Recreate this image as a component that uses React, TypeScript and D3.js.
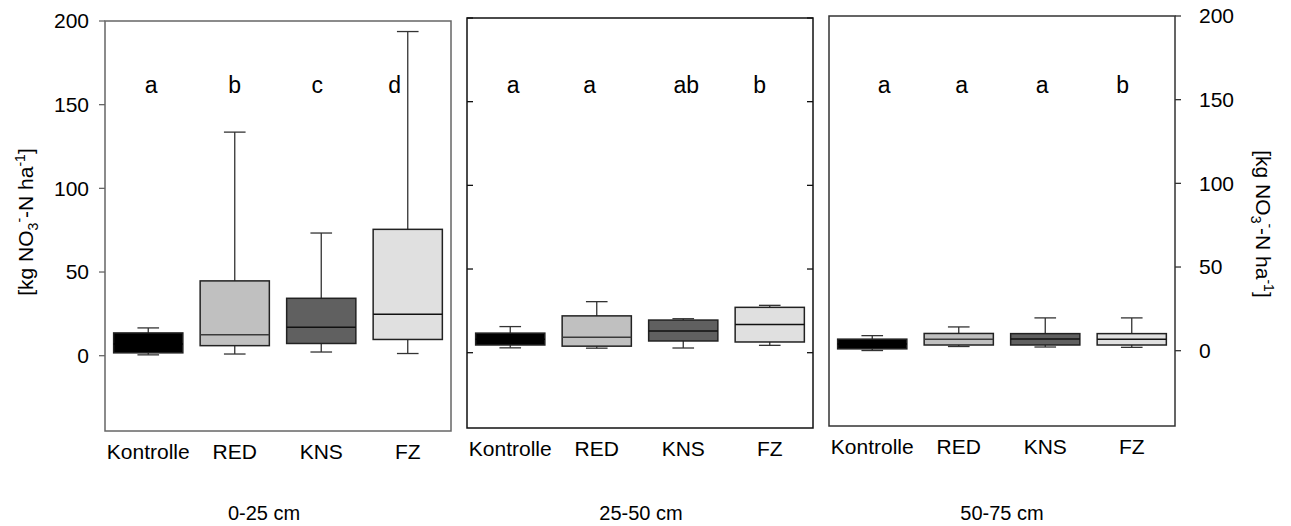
import React from "react";
import * as d3 from "d3";

const categories = ["Kontrolle", "RED", "KNS", "FZ"];
const depths = ["0-25 cm", "25-50 cm", "50-75 cm"];
const yTicks = [0, 50, 100, 150, 200];

const lowWhisker = [
  [0.5, 1.0, 2.2, 1.3],
  [2.9, 2.7, 2.8, 4.4],
  [0.1, 2.5, 2.2, 2.0],
];
const q1 = [
  [1.7, 6.0, 7.3, 9.7],
  [4.6, 3.9, 7.0, 6.4],
  [1.1, 3.4, 3.4, 3.4],
];
const median = [
  [7.0, 12.5, 17.0, 24.8],
  [8.0, 9.3, 12.9, 16.8],
  [4.0, 6.8, 7.0, 6.8],
];
const q3 = [
  [13.6, 44.7, 34.3, 75.5],
  [11.7, 22.0, 19.5, 27.1],
  [6.9, 10.3, 10.2, 10.2],
];
const highWhisker = [
  [16.6, 133.6, 73.3, 193.7],
  [15.6, 30.5, 20.3, 28.3],
  [9.0, 14.2, 19.6, 19.6],
];
const letters = [
  ["a", "b", "c", "d"],
  ["a", "a", "ab", "b"],
  ["a", "a", "a", "b"],
];

const fills = ["#000000", "#c0c0c0", "#606060", "#e0e0e0"];
const medianColors = ["#000000", "#3a3a3a", "#111111", "#111111"];

// layout
const panels = [
  { x0: 105, x1: 451, top: 21, bottom: 431, frame: "#666666", left: "out", right: "none", labelX: 264 },
  { x0: 467, x1: 813, top: 18, bottom: 428, frame: "#111111", left: "in", right: "in", labelX: 641 },
  { x0: 829, x1: 1175, top: 16, bottom: 426, frame: "#333333", left: "none", right: "out", labelX: 1002 },
];
const letterDx = [
  [3, 0, -4, -13],
  [3, -7, 3, -10],
  [12, 3, -3, -9],
];

const FONT = "'Liberation Sans', Arial, Helvetica, sans-serif";

function Title({ x, y, rotate }: { x: number; y: number; rotate: number }) {
  return (
    <text
      transform={`translate(${x},${y}) rotate(${rotate})`}
      textAnchor="middle"
      fontFamily={FONT}
      fontSize={21}
      fill="#000"
    >
      <tspan>[kg NO</tspan>
      <tspan fontSize={14} dy={5}>3</tspan>
      <tspan fontSize={14} dy={-14}>-</tspan>
      <tspan fontSize={21} dy={9}>-N ha</tspan>
      <tspan fontSize={14} dy={-8}>-1</tspan>
      <tspan fontSize={21} dy={8}>]</tspan>
    </text>
  );
}

function Panel({ p, idx }: { p: (typeof panels)[number]; idx: number }) {
  const x = d3.scaleBand<string>().domain(categories).range([p.x0, p.x1]).padding(0);
  const y = d3.scaleLinear().domain([-45, 200]).range([p.bottom, p.top]);
  const bw = x.bandwidth();
  const boxW = bw * 0.8;
  const capW = bw * 0.25;
  const tickLen = 6;

  return (
    <g>
      <rect
        x={p.x0}
        y={p.top}
        width={p.x1 - p.x0}
        height={p.bottom - p.top}
        fill="none"
        stroke={p.frame}
        strokeWidth={1.5}
      />
      {yTicks.map((t) => (
        <g key={t}>
          {p.left === "out" && (
            <>
              <line x1={p.x0 - tickLen} x2={p.x0} y1={y(t)} y2={y(t)} stroke={p.frame} strokeWidth={1.3} />
              <text
                x={p.x0 - 16}
                y={y(t)}
                dy="0.35em"
                textAnchor="end"
                fontFamily={FONT}
                fontSize={21}
                fill="#000"
              >
                {t}
              </text>
            </>
          )}
          {p.left === "in" && (
            <line x1={p.x0} x2={p.x0 + tickLen} y1={y(t)} y2={y(t)} stroke={p.frame} strokeWidth={1.3} />
          )}
          {p.right === "in" && (
            <line x1={p.x1 - tickLen} x2={p.x1} y1={y(t)} y2={y(t)} stroke={p.frame} strokeWidth={1.3} />
          )}
          {p.right === "out" && (
            <>
              <line x1={p.x1} x2={p.x1 + tickLen} y1={y(t)} y2={y(t)} stroke={p.frame} strokeWidth={1.3} />
              <text
                x={p.x1 + 24}
                y={y(t)}
                dy="0.35em"
                textAnchor="start"
                fontFamily={FONT}
                fontSize={21}
                fill="#000"
              >
                {t}
              </text>
            </>
          )}
        </g>
      ))}
      {categories.map((c, i) => {
        const cx = (x(c) as number) + bw / 2;
        const lo = lowWhisker[idx][i];
        const hi = highWhisker[idx][i];
        const a = q1[idx][i];
        const b = q3[idx][i];
        const m = median[idx][i];
        return (
          <g key={c}>
            <line x1={cx} x2={cx} y1={y(b)} y2={y(hi)} stroke="#333" strokeWidth={1.3} />
            <line x1={cx} x2={cx} y1={y(a)} y2={y(lo)} stroke="#333" strokeWidth={1.3} />
            <line x1={cx - capW / 2} x2={cx + capW / 2} y1={y(hi)} y2={y(hi)} stroke="#333" strokeWidth={1.3} />
            <line x1={cx - capW / 2} x2={cx + capW / 2} y1={y(lo)} y2={y(lo)} stroke="#333" strokeWidth={1.3} />
            <rect
              x={cx - boxW / 2}
              y={y(b)}
              width={boxW}
              height={y(a) - y(b)}
              fill={fills[i]}
              stroke="#222"
              strokeWidth={1.5}
            />
            <line
              x1={cx - boxW / 2}
              x2={cx + boxW / 2}
              y1={y(m)}
              y2={y(m)}
              stroke={medianColors[i]}
              strokeWidth={1.5}
            />
            <text
              x={cx + letterDx[idx][i]}
              y={93}
              textAnchor="middle"
              fontFamily={FONT}
              fontSize={23}
              fill="#000"
            >
              {letters[idx][i]}
            </text>
            <text
              x={cx}
              y={p.bottom + 28}
              textAnchor="middle"
              fontFamily={FONT}
              fontSize={21}
              fill="#000"
            >
              {c}
            </text>
          </g>
        );
      })}
      <text x={p.labelX} y={520} textAnchor="middle" fontFamily={FONT} fontSize={20} fill="#000">
        {depths[idx]}
      </text>
    </g>
  );
}

export default function App() {
  return (
    <svg
      width={1291}
      height={526}
      style={{ position: "absolute", left: 0, top: 0, background: "#fff" }}
    >
      <rect width={1291} height={526} fill="#fff" />
      {panels.map((p, i) => (
        <Panel key={i} p={p} idx={i} />
      ))}
      <Title x={33} y={222} rotate={-90} />
      <Title x={1256} y={224} rotate={90} />
    </svg>
  );
}
